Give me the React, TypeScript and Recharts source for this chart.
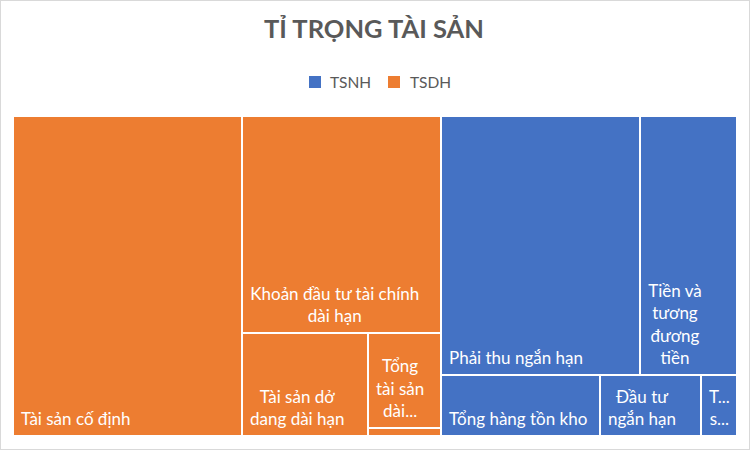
import { Treemap } from "recharts";

// asset structure (share of total assets, %)
const groupNames = ["TSDH", "TSNH"];
const tsdhNames = [
  "Tài sản cố định",
  "Khoản đầu tư tài chính dài hạn",
  "Tài sản dở dang dài hạn",
  "Tổng tài sản dài hạn khác",
  "Các khoản phải thu dài hạn",
];
const tsdhValues = [31.6, 18.6, 5.6, 3.0, 0.2];
const tsnhNames = [
  "Phải thu ngắn hạn",
  "Tiền và tương đương tiền",
  "Tổng hàng tồn kho",
  "Đầu tư ngắn hạn",
  "Tài sản ngắn hạn khác",
];
const tsnhValues = [22.3, 10.8, 4.2, 2.65, 0.95];
const legendNames = ["TSNH", "TSDH"];

const groupColors: Record<string, string> = {
  TSNH: "#4472C4",
  TSDH: "#ED7D31",
};

const data = [
  {
    name: groupNames[0],
    children: tsdhNames.map((name, i) => ({ name, size: tsdhValues[i] })),
  },
  {
    name: groupNames[1],
    children: tsnhNames.map((name, i) => ({ name, size: tsnhValues[i] })),
  },
];

const FONT = "Lato, 'Open Sans', sans-serif";
const LABEL_SIZE = 17;
const LINE_H = 22.5;
const PAD = 8;

let ctx: CanvasRenderingContext2D | null = null;
const measure = (s: string) => {
  if (!ctx) ctx = document.createElement("canvas").getContext("2d");
  if (!ctx) return s.length * 8;
  ctx.font = `${LABEL_SIZE}px ${FONT}`;
  return ctx.measureText(s).width;
};

const fitWord = (word: string, maxW: number) => {
  if (measure(word) <= maxW) return word;
  let s = word;
  while (s.length > 1 && measure(s + "...") > maxW) s = s.slice(0, -1);
  return s + "...";
};

const wrapLabel = (text: string, maxW: number, maxLines: number) => {
  if (maxLines < 1 || maxW < 8) return [];
  const lines: string[] = [];
  let cur = "";
  for (const w of text.split(" ")) {
    const t = cur ? cur + " " + w : w;
    if (measure(t) <= maxW) cur = t;
    else {
      if (cur) lines.push(cur);
      cur = fitWord(w, maxW);
    }
  }
  if (cur) lines.push(cur);
  if (lines.length <= maxLines) return lines;
  const kept = lines.slice(0, maxLines);
  let last = kept[maxLines - 1];
  if (!last.endsWith("...")) {
    const parts = last.split(" ");
    while (parts.length > 1 && measure(parts.join(" ") + "...") > maxW) parts.pop();
    last = parts.join(" ") + "...";
  }
  kept[maxLines - 1] = last;
  return kept;
};

const CellContent = (props: any) => {
  const { depth, x, y, width, height, name } = props;
  if (depth === 1) {
    return <rect x={x} y={y} width={width} height={height} fill={groupColors[name]} />;
  }
  if (depth !== 2) return <g />;
  const maxLines = Math.floor((height - 11 - 18) / LINE_H) + 1;
  const lines = wrapLabel(name, width - 2 * PAD, maxLines);
  const blockW = Math.max(0, ...lines.map(measure));
  const cx = x + PAD + blockW / 2;
  const lastBase = y + height - 11;
  return (
    <g>
      <rect x={x} y={y} width={width} height={height} fill="none" stroke="#fff" strokeWidth={2} />
      {lines.map((l, i) => (
        <text
          key={i}
          x={cx}
          y={lastBase - (lines.length - 1 - i) * LINE_H}
          textAnchor="middle"
          fill="#fff"
          fontFamily={FONT}
          fontSize={LABEL_SIZE}
        >
          {l}
        </text>
      ))}
    </g>
  );
};

export default function App() {
  return (
    <div style={{ position: "absolute", left: 0, top: 0, width: 751, height: 451, background: "#fff" }}>
      <svg width={751} height={451} style={{ position: "absolute", left: 0, top: 0 }}>
        <rect x={0.5} y={0.5} width={749} height={449} fill="#fff" stroke="#d9d9d9" />
        <text x={374} y={38} textAnchor="middle" fill="#595959" fontFamily={FONT} fontWeight="bold" fontSize={25.5}>
          TỈ TRỌNG TÀI SẢN
        </text>
        {legendNames.map((n, i) => (
          <g key={n}>
            <rect x={309 + i * 79} y={76} width={12} height={12} fill={groupColors[n]} />
            <text x={330 + i * 80} y={88} fill="#595959" fontFamily={FONT} fontSize={15.5}>
              {n}
            </text>
          </g>
        ))}
      </svg>
      <div style={{ position: "absolute", left: 13, top: 116 }}>
        <Treemap
          width={724}
          height={320}
          data={data}
          dataKey="size"
          nameKey="name"
          aspectRatio={1.35}
          isAnimationActive={false}
          content={<CellContent />}
        />
      </div>
    </div>
  );
}
